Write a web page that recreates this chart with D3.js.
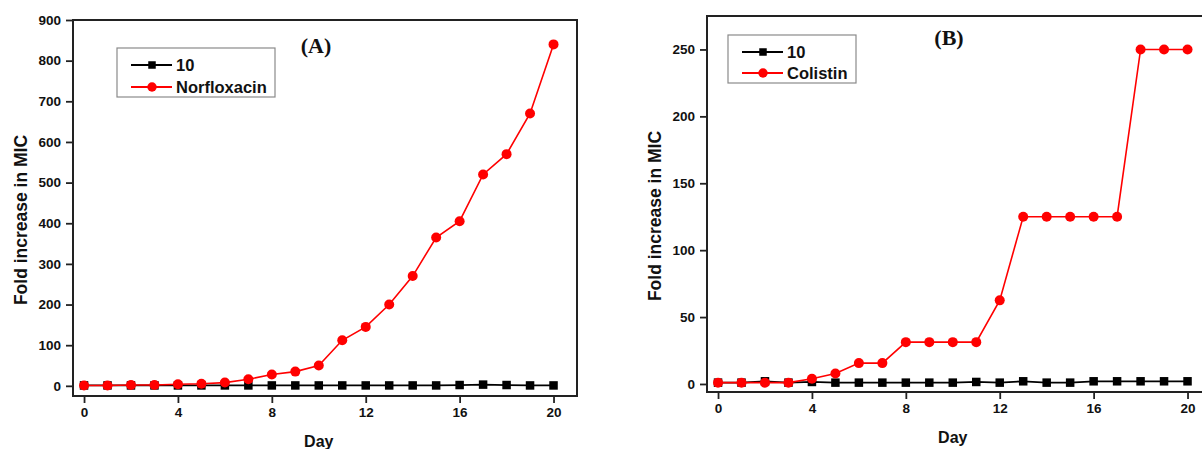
<!DOCTYPE html>
<html lang="en">
<head>
  <meta charset="UTF-8">
  <title>Fold increase in MIC</title>
  <script src="https://d3js.org/d3.v7.min.js"></script>
  <style>
    body {
      margin: 0;
      background: #fff;
    }
    svg text {
      font-family: "Liberation Sans", Arial, sans-serif;
      font-weight: bold;
      fill: #111;
    }
  </style>
</head>
<body>
  <svg id="chart" width="1202" height="449"></svg>

  <script>
    // data
    const days = d3.range(0, 21);
    const xTicks = [0, 4, 8, 12, 16, 20];

    const controlA = [1, 1, 1, 1, 1, 1, 1, 1, 1, 1, 1, 1, 1, 1, 1, 1, 2, 3, 2, 1, 1];
    const norfloxacin = [1, 1, 2, 2, 4, 5, 8, 16, 28, 35, 50, 112, 145, 200, 270, 365, 405, 520, 570, 670, 840];
    const yTicksA = [0, 100, 200, 300, 400, 500, 600, 700, 800, 900];

    const controlB = [1, 1, 2, 1, 1.5, 1, 1, 1, 1, 1, 1, 1.5, 1, 2, 1, 1, 2, 2, 2, 2, 2];
    const colistin = [1, 1, 1, 1, 3.9, 7.8, 15.6, 15.6, 31.25, 31.25, 31.25, 31.25, 62.5, 125, 125, 125, 125, 125, 250, 250, 250];
    const yTicksB = [0, 50, 100, 150, 200, 250];

    const panels = [
      {
        label: "(A)", labelX: 316, labelY: 53,
        left: 73, right: 577, top: 20, bottom: 396,
        yDomain: [-25, 900], yTicks: yTicksA,
        control: controlA, drug: norfloxacin, drugName: "Norfloxacin",
        legend: { x: 117, y: 48, w: 158, h: 49, row1: 65, row2: 87 }
      },
      {
        label: "(B)", labelX: 949, labelY: 45,
        left: 707, right: 1211, top: 16, bottom: 392,
        yDomain: [-6, 275], yTicks: yTicksB,
        control: controlB, drug: colistin, drugName: "Colistin",
        legend: { x: 728, y: 35, w: 128, h: 48, row1: 52, row2: 73 }
      }
    ];

    const svg = d3.select("#chart");

    panels.forEach(drawPanel);

    function drawPanel(p) {
      const g = svg.append("g");

      const x = d3.scaleLinear().domain([-0.47, 21]).range([p.left, p.right]);
      const y = d3.scaleLinear().domain(p.yDomain).range([p.bottom, p.top]);

      // axes with outward ticks
      const xAxis = g.append("g")
        .attr("transform", `translate(0,${p.bottom})`)
        .call(d3.axisBottom(x).tickValues(xTicks).tickSize(7).tickSizeOuter(0).tickPadding(4));
      const yAxis = g.append("g")
        .attr("transform", `translate(${p.left},0)`)
        .call(d3.axisLeft(y).tickValues(p.yTicks).tickSize(7).tickSizeOuter(0).tickPadding(5));

      [xAxis, yAxis].forEach(a => {
        a.select(".domain").remove();
        a.selectAll(".tick line").attr("stroke", "#222").attr("stroke-width", 1.8);
        a.selectAll(".tick text").attr("font-size", 13.5).attr("fill", "#111")
          .style("font-family", "'Liberation Sans', Arial, sans-serif").style("font-weight", "bold");
      });

      // frame
      g.append("rect")
        .attr("x", p.left)
        .attr("y", p.top)
        .attr("width", p.right - p.left)
        .attr("height", p.bottom - p.top)
        .attr("fill", "none")
        .attr("stroke", "#222")
        .attr("stroke-width", 2);

      const line = d3.line().x((d, i) => x(days[i])).y(d => y(d));

      // control series (black squares)
      g.append("path")
        .datum(p.control)
        .attr("d", line)
        .attr("fill", "none")
        .attr("stroke", "#000")
        .attr("stroke-width", 1.8);
      g.append("g")
        .selectAll("rect")
        .data(p.control)
        .join("rect")
        .attr("x", (d, i) => x(days[i]) - 4.25)
        .attr("y", d => y(d) - 4.25)
        .attr("width", 8.5)
        .attr("height", 8.5)
        .attr("fill", "#000");

      // drug series (red circles)
      g.append("path")
        .datum(p.drug)
        .attr("d", line)
        .attr("fill", "none")
        .attr("stroke", "#ff0000")
        .attr("stroke-width", 1.6);
      g.append("g")
        .selectAll("circle")
        .data(p.drug)
        .join("circle")
        .attr("cx", (d, i) => x(days[i]))
        .attr("cy", d => y(d))
        .attr("r", 5)
        .attr("fill", "#ff0000");

      // legend
      const L = p.legend;
      g.append("rect")
        .attr("x", L.x).attr("y", L.y)
        .attr("width", L.w).attr("height", L.h)
        .attr("fill", "#fff")
        .attr("stroke", "#8a8a8a")
        .attr("stroke-width", 1.2);

      const entries = [
        { name: "10", color: "#000", shape: "square", cy: L.row1 },
        { name: p.drugName, color: "#ff0000", shape: "circle", cy: L.row2 }
      ];
      const lx0 = L.x + 14, lx1 = L.x + 55, lm = L.x + 35;
      entries.forEach(e => {
        g.append("line")
          .attr("x1", lx0).attr("x2", lx1)
          .attr("y1", e.cy).attr("y2", e.cy)
          .attr("stroke", e.color).attr("stroke-width", 1.8);
        if (e.shape === "square") {
          g.append("rect")
            .attr("x", lm - 3.75).attr("y", e.cy - 3.75)
            .attr("width", 7.5).attr("height", 7.5)
            .attr("fill", e.color);
        } else {
          g.append("circle")
            .attr("cx", lm).attr("cy", e.cy).attr("r", 4.7)
            .attr("fill", e.color);
        }
        g.append("text")
          .attr("x", lx1 + 4)
          .attr("y", e.cy + 6)
          .attr("font-size", 16.5)
          .text(e.name);
      });

      // panel label
      g.append("text")
        .attr("x", p.labelX)
        .attr("y", p.labelY)
        .attr("text-anchor", "middle")
        .attr("font-size", 22)
        .style("font-family", "'Liberation Serif', 'Times New Roman', serif")
        .text(p.label);

      // axis titles
      g.append("text")
        .attr("x", (x(0) + x(20)) / 2)
        .attr("y", p.bottom + 51)
        .attr("text-anchor", "middle")
        .attr("font-size", 16)
        .text("Day");

      g.append("text")
        .attr("transform", `translate(${p.left - 46},${(p.top + p.bottom) / 2 + 12}) rotate(-90)`)
        .attr("text-anchor", "middle")
        .attr("font-size", 17.5)
        .text("Fold increase in MIC");
    }
  </script>
</body>
</html>
